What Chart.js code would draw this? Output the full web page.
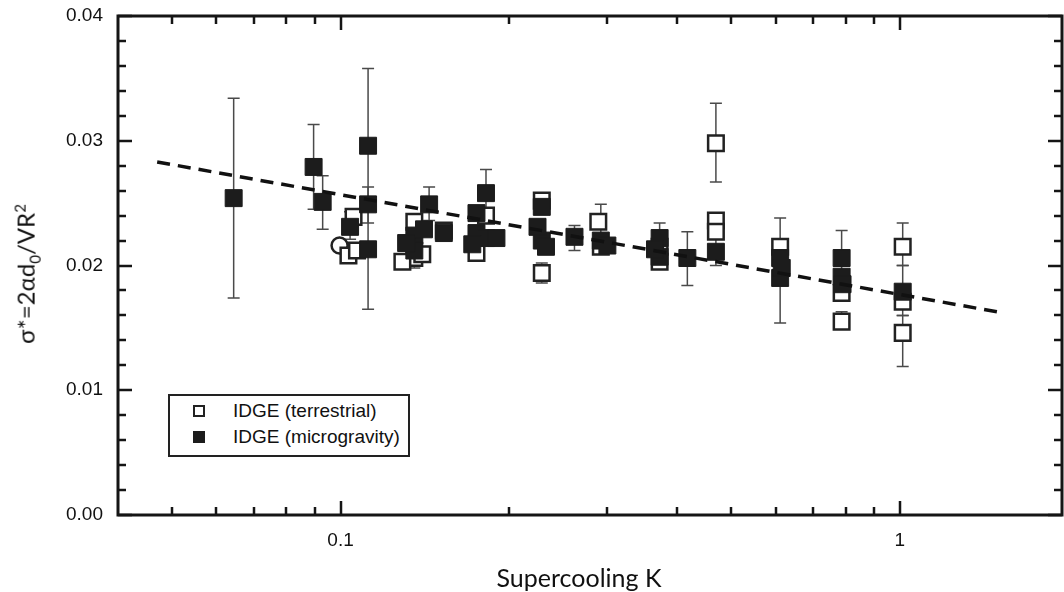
<!DOCTYPE html>
<html>
<head>
<meta charset="utf-8">
<script src="https://cdn.jsdelivr.net/npm/chart.js@4.4.1/dist/chart.umd.min.js"></script>
<style>
  html, body { margin: 0; padding: 0; background: #fff; overflow: hidden; }
  #wrap { position: relative; width: 1064px; height: 592px; }
  #c { position: absolute; left: 0; top: 0; }
  .ytitle { position: absolute; left: 27px; top: 274px; transform: translate(-50%, -50%) rotate(-90deg);
            font-family: Lato, "Open Sans", sans-serif; font-size: 24px; color: #111; white-space: nowrap; }
  .ytitle sub, .ytitle sup { font-size: 15px; }
  .xtitle { position: absolute; left: 579px; top: 562px; transform: translateX(-50%);
            font-family: Lato, "Open Sans", sans-serif; font-size: 25px; color: #111; white-space: nowrap; }
  .legend { position: absolute; left: 168px; top: 394px; width: 238px; height: 59px; border: 2px solid #222;
            font-family: "Liberation Sans", Arial, sans-serif; font-size: 19px; color: #111; background: #fff; }
  .row { position: absolute; left: 0; height: 24px; line-height: 24px; white-space: nowrap; }
  .mk { position: absolute; left: 23px; top: 6px; width: 12px; height: 12px; box-sizing: border-box; }
  .mk.open { border: 2px solid #222; background: #fff; }
  .mk.fill { background: #1c1c1c; }
  .lt { position: absolute; left: 63px; top: 0; }
</style>
</head>
<body>
<div id="wrap">
  <canvas id="c" width="1064" height="592"></canvas>
  <div class="ytitle">σ*=2αd<sub>0</sub>/VR<sup>2</sup></div>
  <div class="xtitle">Supercooling K</div>
  <div class="legend">
    <div class="row" style="top:3px;"><span class="mk open"></span><span class="lt">IDGE (terrestrial)</span></div>
    <div class="row" style="top:29px;"><span class="mk fill"></span><span class="lt">IDGE (microgravity)</span></div>
  </div>
</div>
<script>
// ---- Data ----
const microX  = [0.0644, 0.0895, 0.0929, 0.112, 0.112, 0.112, 0.104, 0.144, 0.1355, 0.1355, 0.153, 0.175, 0.175, 0.182, 0.182, 0.229, 0.229, 0.262, 0.292, 0.372, 0.372, 0.417, 0.469, 0.611, 0.611, 0.787, 0.787, 1.012, 0.131, 0.141, 0.172, 0.19, 0.225, 0.233, 0.30, 0.365, 0.615, 0.79];
const microY  = [0.0254, 0.0279, 0.0251, 0.0296, 0.0249, 0.0213, 0.0231, 0.0249, 0.0224, 0.0212, 0.0226, 0.0226, 0.0242, 0.0258, 0.0222, 0.0247, 0.0220, 0.0223, 0.0220, 0.0222, 0.0207, 0.0206, 0.0211, 0.0206, 0.0190, 0.0206, 0.0191, 0.0179, 0.0218, 0.0229, 0.0217, 0.0222, 0.0231, 0.0215, 0.0216, 0.0213, 0.0198, 0.0185];
const microLo  = [0.0174, 0.0245, 0.0229, 0.0165, 0.0234, null, 0.0221, 0.0236, null, null, null, null, null, 0.0246, null, null, null, 0.0212, 0.0210, 0.0212, null, 0.0184, 0.0200, null, 0.0154, 0.0195, null, 0.0160, null, null, null, null, null, null, null, null, null, null];
const microHi  = [0.0334, 0.0313, 0.0272, 0.0358, 0.0263, null, 0.0243, 0.0263, null, null, null, null, null, 0.0277, null, null, null, 0.0232, 0.0249, 0.0234, null, 0.0227, 0.0222, null, 0.0238, 0.0228, null, 0.0200, null, null, null, null, null, null, null, null, null, null];

const terrX   = [0.0996, 0.1033, 0.1055, 0.107, 0.1355, 0.1355, 0.153, 0.182, 0.175, 0.229, 0.229, 0.289, 0.292, 0.372, 0.372, 0.469, 0.469, 0.469, 0.611, 0.787, 0.787, 1.012, 1.012, 1.012, 0.129, 0.14];
const terrY   = [0.0216, 0.0208, 0.0239, 0.0212, 0.0206, 0.0235, 0.0228, 0.0240, 0.0210, 0.0194, 0.0252, 0.0235, 0.0215, 0.0215, 0.0203, 0.0298, 0.0236, 0.0227, 0.0215, 0.0178, 0.0155, 0.0215, 0.0171, 0.0146, 0.0203, 0.0209];
const terrLo  = [null, null, null, null, 0.0198, null, null, null, null, 0.0186, null, null, null, null, null, 0.0267, null, null, null, null, 0.0150, 0.0200, null, 0.0119, null, null];
const terrHi  = [null, null, null, null, 0.0214, null, null, null, null, 0.0202, null, null, null, null, null, 0.0330, null, null, null, null, 0.0163, 0.0234, null, 0.0160, null, null];
const terrShape = ['circle','rect','rect','rect','rect','rect','rect','rect','rect','rect','rect','rect','rect','rect','rect','rect','rect','rect','rect','rect','rect','rect','rect','rect','rect','rect'];

const fitX = [0.047, 1.53];
const fitY = [0.0283, 0.0162];

const xTickValues = [0.05, 0.06, 0.07, 0.08, 0.09, 0.1, 0.2, 0.3, 0.4, 0.5, 0.6, 0.7, 0.8, 0.9, 1];
const xTickLabels = {0.1: '0.1', 1: '1'};
const yTickValues = [0, 0.002, 0.004, 0.006, 0.008, 0.01, 0.012, 0.014, 0.016, 0.018, 0.02, 0.022, 0.024, 0.026, 0.028, 0.03, 0.032, 0.034, 0.036, 0.038, 0.04];
const yTickLabels = {0: '0.00', 0.01: '0.01', 0.02: '0.02', 0.03: '0.03', 0.04: '0.04'};

const pts = (xs, ys) => xs.map((x, i) => ({x: x, y: ys[i]}));

// error bars drawn through the chart scales
const errorBars = {
  id: 'errorBars',
  beforeDatasetsDraw(chart) {
    const {ctx, scales: {x, y}} = chart;
    ctx.save();
    ctx.strokeStyle = '#4a4a4a';
    ctx.lineWidth = 1.5;
    chart.data.datasets.forEach(ds => {
      if (!ds.errLo) return;
      ds.data.forEach((p, i) => {
        const lo = ds.errLo[i], hi = ds.errHi[i];
        if (lo == null || hi == null) return;
        const px = x.getPixelForValue(p.x);
        const yl = y.getPixelForValue(lo), yh = y.getPixelForValue(hi);
        ctx.beginPath();
        ctx.moveTo(px, yl); ctx.lineTo(px, yh);
        ctx.moveTo(px - 6, yl); ctx.lineTo(px + 6, yl);
        ctx.moveTo(px - 6, yh); ctx.lineTo(px + 6, yh);
        ctx.stroke();
      });
    });
    ctx.restore();
  }
};

// frame and inward ticks on all four sides
const frameTicks = {
  id: 'frameTicks',
  afterDraw(chart) {
    const {ctx, chartArea: a, scales: {x, y}} = chart;
    ctx.save();
    ctx.strokeStyle = '#151515';
    ctx.lineWidth = 2.5;
    ctx.beginPath();
    x.ticks.forEach(t => {
      const px = Math.round(x.getPixelForValue(t.value));
      const len = xTickLabels[t.value] ? 14 : 8;
      ctx.moveTo(px, a.bottom); ctx.lineTo(px, a.bottom - len);
      ctx.moveTo(px, a.top); ctx.lineTo(px, a.top + len);
    });
    y.ticks.forEach(t => {
      const py = Math.round(y.getPixelForValue(t.value));
      const len = yTickLabels[t.value] ? 14 : 8;
      ctx.moveTo(a.left, py); ctx.lineTo(a.left + len, py);
      ctx.moveTo(a.right, py); ctx.lineTo(a.right - len, py);
    });
    ctx.stroke();
    ctx.lineWidth = 3;
    ctx.strokeRect(a.left, a.top, a.right - a.left, a.bottom - a.top);
    ctx.restore();
  }
};

new Chart(document.getElementById('c'), {
  type: 'scatter',
  data: {
    datasets: [
      {
        label: 'fit', type: 'line', data: pts(fitX, fitY), order: 0,
        borderColor: '#111', borderWidth: 3.5, borderDash: [13, 8], pointRadius: 0, fill: false
      },
      {
        label: 'IDGE (microgravity)', data: pts(microX, microY), order: 1,
        errLo: microLo, errHi: microHi,
        pointStyle: 'rect', pointRadius: 12, backgroundColor: '#1c1c1c', borderColor: '#1c1c1c', borderWidth: 1
      },
      {
        label: 'IDGE (terrestrial)', data: pts(terrX, terrY), order: 2,
        errLo: terrLo, errHi: terrHi,
        pointStyle: terrShape, pointRadius: terrShape.map(s => s === 'circle' ? 8 : 11),
        backgroundColor: '#ffffff', borderColor: '#222', borderWidth: 2.5
      }
    ]
  },
  options: {
    responsive: false,
    animation: false,
    events: [],
    layout: { autoPadding: false, padding: { left: 0, right: 2, top: 16, bottom: 0 } },
    plugins: { legend: { display: false }, tooltip: { enabled: false } },
    scales: {
      x: {
        type: 'logarithmic', min: 0.04, max: 1.95,
        afterBuildTicks: s => { s.ticks = xTickValues.map(v => ({value: v})); },
        afterFit: s => { s.height = 77; s.paddingLeft = 0; s.paddingRight = 0; },
        grid: { display: false, drawTicks: false },
        border: { display: false },
        ticks: {
          autoSkip: false, maxRotation: 0, padding: 14, color: '#111',
          font: { family: '"Liberation Sans", Arial, sans-serif', size: 19 },
          callback: v => xTickLabels[v] || ''
        }
      },
      y: {
        type: 'linear', min: 0, max: 0.04,
        afterBuildTicks: s => { s.ticks = yTickValues.map(v => ({value: v})); },
        afterFit: s => { s.width = 118; s.paddingTop = 0; s.paddingBottom = 0; },
        grid: { display: false, drawTicks: false },
        border: { display: false },
        ticks: {
          autoSkip: false, padding: 15, color: '#111',
          font: { family: '"Liberation Sans", Arial, sans-serif', size: 19 },
          callback: v => yTickLabels[v] || ''
        }
      }
    }
  },
  plugins: [errorBars, frameTicks]
});
</script>
</body>
</html>
